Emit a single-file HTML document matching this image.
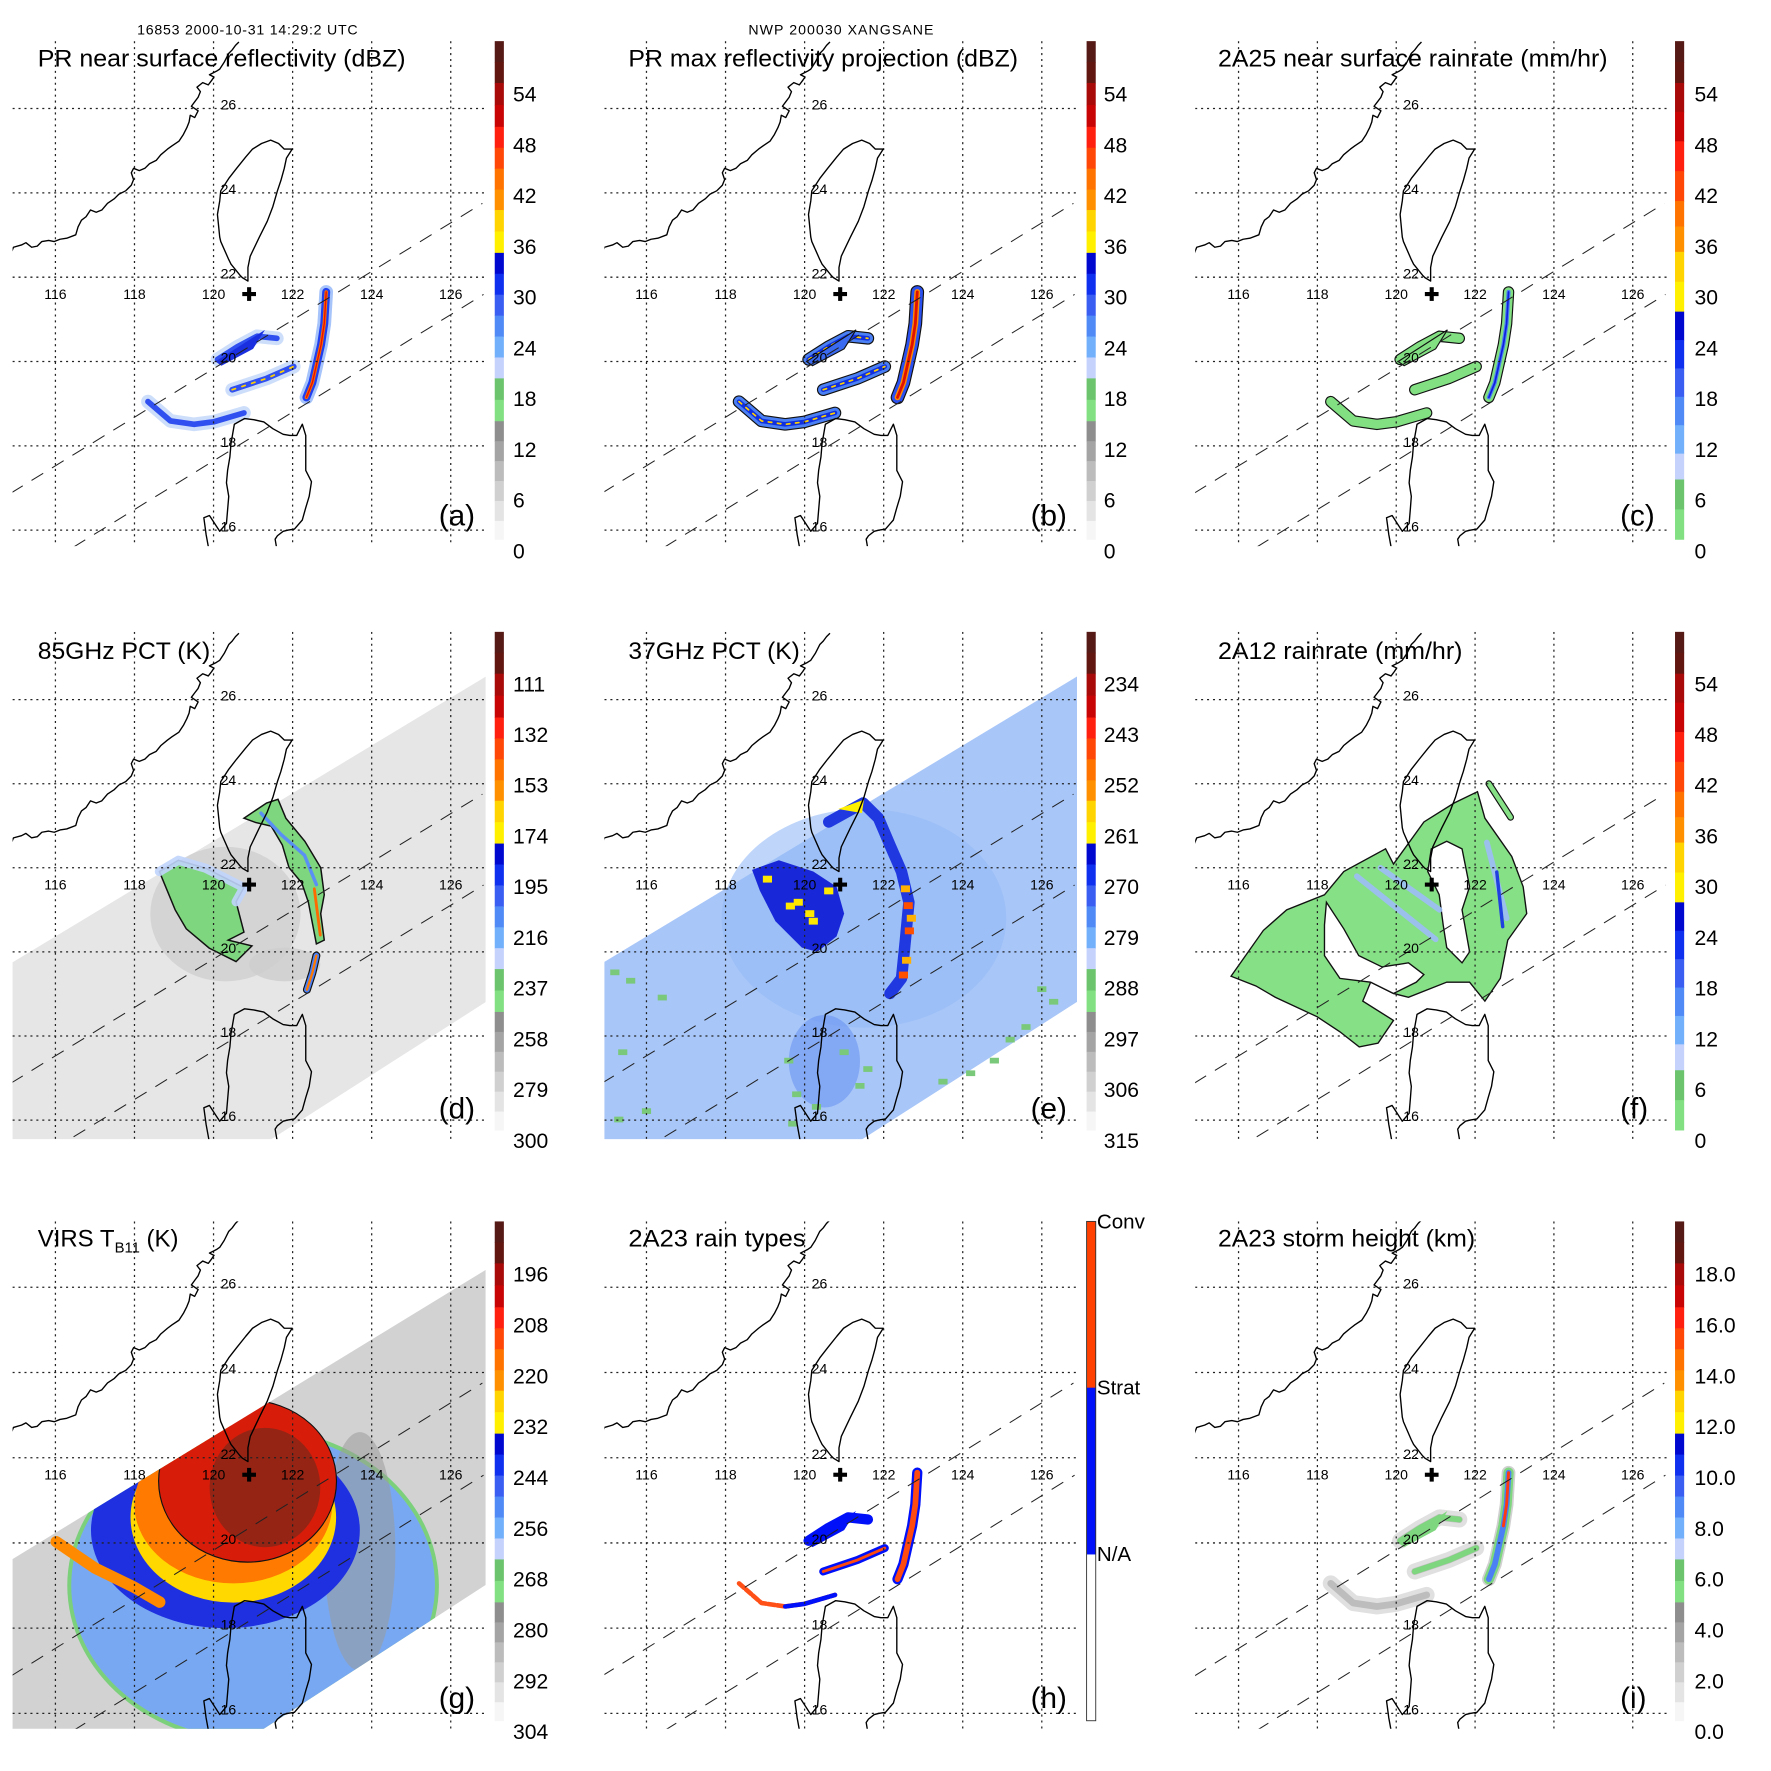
<!DOCTYPE html>
<html><head><meta charset="utf-8">
<style>
html,body{margin:0;padding:0;background:#fff;}
svg{display:block;font-family:"Liberation Sans",Arial,sans-serif;}
</style></head>
<body>
<svg id="fig" xmlns="http://www.w3.org/2000/svg" width="1771" height="1771" viewBox="0 0 1550 1550">
<rect x="0" y="0" width="1550" height="1550" fill="#fff"/>
<text x="120" y="30" font-size="12.4" textLength="193">16853 2000-10-31 14:29:2 UTC</text>
<text x="655" y="30" font-size="12.4" textLength="162">NWP 200030 XANGSANE</text>
</svg>
<script>
// ---------- data arrays ----------
const lonTicks = [116,118,120,122,124,126];
const latTicks = [16,18,20,22,24,26];
const stormCenter = [120.9, 21.6];
const prSwathUpper = [[114.88,16.88],[126.8,23.75]];
const prSwathLower = [[116.46,15.6],[126.83,21.59]];
const tmiSwath = [[114.88,19.73],[126.89,26.55],[126.89,18.81],[121.22,15.4],[114.88,15.4]];
const virsSwath = [[114.88,19.6],[126.89,26.41],[126.89,19.02],[120.87,15.4],[114.88,15.4]];
const ticksA = ["54","48","42","36","30","24","18","12","6","0"];
const ticksB = ["54","48","42","36","30","24","18","12","6","0"];
const ticksC = ["54","48","42","36","30","24","18","12","6","0"];
const ticksD = ["111","132","153","174","195","216","237","258","279","300"];
const ticksE = ["234","243","252","261","270","279","288","297","306","315"];
const ticksF = ["54","48","42","36","30","24","18","12","6","0"];
const ticksG = ["196","208","220","232","244","256","268","280","292","304"];
const ticksH = ["Conv","Strat","N/A"];
const ticksI = ["18.0","16.0","14.0","12.0","10.0","8.0","6.0","4.0","2.0","0.0"];
// PR rain bands (lon/lat)
const bandEyewall = [[122.85,21.65],[122.8,20.9],[122.72,20.4],[122.5,19.5],[122.35,19.15]];
const bandNorth = [[120.1,20.05],[120.6,20.35],[121.1,20.6],[121.6,20.55]];
const bandMid = [[120.47,19.33],[121.34,19.6],[122.03,19.88]];
const bandSouth = [[118.34,19.05],[118.91,18.59],[119.51,18.51],[120.0,18.57],[120.77,18.78]];
const bandWedge = [[120.05,20.0],[121.3,20.75],[121.0,20.3],[120.2,19.9]];
// 85GHz scattering regions
const pct85West = [[118.63,21.91],[119.11,22.18],[119.8,21.99],[120.37,21.72],[120.77,21.53],[120.57,21.19],[120.77,20.47],[120.37,20.28],[120.97,20.14],[120.57,19.77],[119.89,20.09],[119.31,20.55],[119.03,21.0]];
const pct85East = [[120.77,23.18],[121.34,23.54],[121.63,23.63],[121.83,23.18],[122.31,22.63],[122.71,22.0],[122.8,21.36],[122.71,20.91],[122.8,20.28],[122.6,20.19],[122.51,20.64],[122.4,21.18],[122.23,21.64],[121.91,22.0],[121.74,22.54],[121.46,22.99],[121.06,23.08]];
const pct85South = [[122.6,19.91],[122.5,19.5],[122.36,19.1]];
// 37GHz regions
const pct37Core = [[118.67,21.95],[119.35,22.18],[120.22,21.91],[120.81,21.55],[121.0,20.91],[120.81,20.37],[120.32,20.0],[119.93,20.1],[119.26,20.73],[118.87,21.45]];
const pct37Ring = [[120.61,23.09],[121.48,23.54],[121.87,23.18],[122.16,22.54],[122.45,21.91],[122.64,21.18],[122.55,20.28],[122.45,19.37],[122.16,19.01]];
const pct37Cells = [[119.64,21.09],[119.84,21.18],[120.13,20.91],[120.22,20.73],[119.06,21.73],[120.61,21.45],[122.55,21.5],[122.62,21.1],[122.7,20.8],[122.65,20.5],[122.58,19.8],[122.5,19.45]];
const pct37Green = [[115.2,19.5],[115.6,19.3],[116.4,18.9],[115.4,17.6],[116.0,16.2],[115.3,16.0],[119.6,17.4],[119.8,16.6],[121.0,17.6],[121.4,16.8],[124.8,17.4],[125.6,18.2],[126.3,18.8],[123.5,16.9],[124.2,17.1],[119.7,15.9],[120.3,16.3],[121.6,17.2],[126.0,19.1],[125.2,17.9]];
// 2A12 rain area
const rain12Area = [[115.81,19.42],[116.63,20.51],[117.22,21.0],[118.18,21.36],[118.67,21.91],[119.73,22.45],[119.93,22.09],[120.7,23.09],[121.47,23.54],[122.06,23.81],[122.25,23.18],[122.93,22.27],[123.22,21.55],[123.31,20.91],[122.83,20.28],[122.64,19.37],[122.25,18.83],[121.86,19.28],[121.28,19.28],[120.31,18.92],[119.93,19.01],[119.35,19.28],[119.15,18.83],[119.93,18.37],[119.54,17.83],[119.06,17.74],[118.57,18.1],[117.99,18.46],[116.93,18.92],[116.44,19.19]];
const rain12HoleA = [[118.23,21.18],[118.67,20.55],[119.05,19.91],[119.64,19.64],[120.31,19.74],[120.7,19.46],[120.51,19.28],[119.93,19.01],[119.35,19.28],[118.57,19.37],[118.18,19.91],[118.18,20.64]];
const rain12HoleB = [[120.89,22.45],[121.28,22.63],[121.67,22.45],[121.86,21.55],[121.67,21.0],[121.86,20.0],[121.67,19.74],[121.28,20.1],[121.19,20.64],[121.09,21.36],[120.8,21.91]];
const rain12NE = [[122.35,24.0],[122.9,23.2]];
const rain12Streaks = [[[119.0,21.8],[121.0,20.3]],[[119.6,22.0],[121.1,21.0]],[[122.3,22.6],[122.8,20.8]]];
// VIRS layers: lon, lat, rx(deg), ry(deg)
const virsGreen = [121.0,19.0,4.7,3.7];
const virsLight = [121.0,19.0,4.6,3.6];
const virsGrayE = [123.7,19.8,0.9,2.8];
const virsBlue = [120.3,20.3,3.4,2.3];
const virsYellow = [120.5,20.6,2.6,2.0];
const virsOrange = [120.5,20.9,2.5,1.85];
const virsRed = [120.86,21.45,2.25,1.9];
const virsCore = [121.3,21.3,1.4,1.4];
const virsSpiral = [[116.02,20.03],[117.0,19.41],[117.97,18.97],[118.64,18.61]];

// ---------- geography (reference pixel coords of panel a -> lon/lat) ----------
function refLL(arr){return arr.map(p=>[116+(p[0]-50)/34.9, 26-(p[1]-96)/37.4]);}
const taiwan = refLL([[240,124],[247,127],[252,132],[259,132],[254,140],[252,149],[249,160],[246,169],[242,183],[237,196],[230,210],[222,227],[220,237],[220,249],[215,246],[213,244],[205,234],[203,230],[196,214],[195,210],[193,190],[195,178],[196,169],[203,158],[210,149],[218,139],[224,132],[232,127]]);
const china = refLL([[11,224],[13,219],[20,217],[24,215],[29,219],[34,218],[38,214],[44,213],[49,214],[54,212],[60,211],[68,208],[70,201],[73,195],[77,192],[81,186],[86,188],[91,186],[96,180],[102,176],[106,172],[112,169],[117,164],[119,159],[117,153],[119,149],[124,151],[129,149],[133,145],[139,142],[143,137],[149,132],[153,129],[159,125],[163,119],[166,113],[168,108],[169,102],[173,104],[176,98],[170,94],[173,90],[176,86],[178,81],[175,77],[180,73],[185,75],[188,71],[190,68],[186,66],[192,63],[195,61],[199,55],[203,47],[206,44],[209,40],[212,37]]);
const luzon = refLL([[186,490],[183,474],[181,459],[186,457],[195,471],[201,464],[202,452],[203,440],[201,428],[202,417],[204,405],[205,393],[208,376],[217,371],[225,372],[234,374],[242,380],[251,385],[257,386],[263,386],[266,380],[268,376],[271,386],[271,400],[271,417],[276,427],[274,440],[271,450],[268,461],[261,469],[255,470],[251,471],[246,475],[244,478],[246,490]]);

const NS='http://www.w3.org/2000/svg';
const svg=document.getElementById('fig');
function el(tag,attrs,parent){const e=document.createElementNS(NS,tag);for(const k in attrs)e.setAttribute(k,attrs[k]);(parent||svg).appendChild(e);return e;}

const cbLayoutA=[[0,'#561a16'],[0.042,'#621610'],[0.084,'#a80a0a'],[0.128,'#c80404'],[0.172,'#ff2010'],[0.214,'#ff4808'],[0.256,'#ff7400'],[0.298,'#ff9000'],[0.339,'#ffd400'],[0.382,'#fff000'],[0.425,'#0008d0'],[0.467,'#1030f0'],[0.509,'#3a5ef2'],[0.551,'#4f8af6'],[0.593,'#72b0fb'],[0.635,'#c4d2fc'],[0.677,'#6cc46c'],[0.72,'#82e082'],[0.763,'#8e8e8e'],[0.803,'#a4a4a4'],[0.843,'#bcbcbc'],[0.883,'#d0d0d0'],[0.923,'#e4e4e4'],[0.963,'#f6f6f6'],[1,null]];
const cbLayoutB=[[0,'#561a16'],[0.042,'#621610'],[0.084,'#a80a0a'],[0.142,'#c80404'],[0.201,'#ff2010'],[0.261,'#ff4808'],[0.321,'#ff7400'],[0.372,'#ff9000'],[0.423,'#ffd400'],[0.483,'#fff000'],[0.543,'#0008d0'],[0.6,'#1030f0'],[0.657,'#3a5ef2'],[0.714,'#4f8af6'],[0.771,'#72b0fb'],[0.828,'#c4d2fc'],[0.88,'#6cc46c'],[0.94,'#82e082'],[1,null]];
const cbLayoutH=[[0,'#ff4000'],[0.333,'#0010f8'],[0.667,'#ffffff'],[1,null]];

const cols=[{ox:0,x0:48.5,kx:34.6,right:425,cbx:433,lx:449,tx:33},
            {ox:518,x0:47.8,kx:34.6,right:425,cbx:433,lx:448,tx:32},
            {ox:1035,x0:49,kx:34.5,right:424,cbx:431,lx:448,tx:31}];
const rows=[{oy:0,y0:95,ky:36.9,top:36,bot:478,cbT:36,cbB:472,l0:82,ls:44.4,ty:58},
            {oy:520,y0:92.3,ky:36.8,top:33,bot:477,cbT:33,cbB:469,l0:78,ls:44.4,ty:56.7},
            {oy:1035,y0:91.6,ky:37.3,top:34,bot:478,cbT:34,cbB:471,l0:79.7,ls:44.5,ty:56}];

const panels=[
 {id:'a',c:0,r:0,title:'PR near surface reflectivity (dBZ)',tl:322,ticks:ticksA,cb:cbLayoutA,kind:'pr'},
 {id:'b',c:1,r:0,title:'PR max reflectivity projection (dBZ)',tl:341,ticks:ticksB,cb:cbLayoutA,kind:'prmax'},
 {id:'c',c:2,r:0,title:'2A25 near surface rainrate (mm/hr)',tl:341,ticks:ticksC,cb:cbLayoutB,kind:'rr25'},
 {id:'d',c:0,r:1,title:'85GHz PCT (K)',tl:151,ticks:ticksD,cb:cbLayoutA,kind:'p85'},
 {id:'e',c:1,r:1,title:'37GHz PCT (K)',tl:150,ticks:ticksE,cb:cbLayoutA,kind:'p37'},
 {id:'f',c:2,r:1,title:'2A12 rainrate (mm/hr)',tl:214,ticks:ticksF,cb:cbLayoutB,kind:'r12'},
 {id:'g',c:0,r:2,title:'VIRS',tl:0,ticks:ticksG,cb:cbLayoutA,kind:'virs'},
 {id:'h',c:1,r:2,title:'2A23 rain types',tl:155,ticks:ticksH,cb:cbLayoutH,kind:'types'},
 {id:'i',c:2,r:2,title:'2A23 storm height (km)',tl:225,ticks:ticksI,cb:cbLayoutA,kind:'height'}
];

function pathLL(pts,X,Y,close){return pts.map((p,i)=>(i?'L':'M')+X(p[0]).toFixed(1)+','+Y(p[1]).toFixed(1)).join('')+(close?'Z':'');}

panels.forEach(P=>{
  const C=cols[P.c],R=rows[P.r];
  const X=lon=>C.x0+(lon-116)*C.kx;
  const Y=lat=>R.y0+(26-lat)*R.ky;
  const left=11,right=C.right,top=R.top,bot=R.bot;
  const g=el('g',{transform:`translate(${C.ox},${R.oy})`});
  
  
  const defs=el('defs',{},g);
  const cp=el('clipPath',{id:'clip-'+P.id},defs);
  el('rect',{x:left,y:top,width:right-left,height:bot-top},cp);
  const mapG=el('g',{'clip-path':`url(#clip-${P.id})`},g);
  
  
  const dataG=el('g',{},mapG);
  
  

  function line(pts,stroke,w,extra){return el('path',Object.assign({d:pathLL(pts,X,Y,false),fill:'none',stroke:stroke,'stroke-width':w,'stroke-linecap':'round','stroke-linejoin':'round'},extra||{}),dataG);}
  function poly(pts,fill,extra){return el('path',Object.assign({d:pathLL(pts,X,Y,true),fill:fill},extra||{}),dataG);}
  function ell(a,fill,extra){return el('ellipse',Object.assign({cx:X(a[0]),cy:Y(a[1]),rx:a[2]*C.kx,ry:a[3]*R.ky,fill:fill},extra||{}),dataG);}
  const allBands=[bandNorth,bandMid,bandSouth];

  if(P.kind==='pr'){
    allBands.forEach(b=>{line(b,'#b8d0fa',12,{opacity:0.7});line(b,'#3050f0',5);});
    poly(bandWedge,'#1a30e0');
    line(bandEyewall,'#80aaf8',12,{opacity:0.7});line(bandEyewall,'#2040f0',7);line(bandEyewall,'#ff6a00',3);line(bandEyewall,'#e81000',1.2);
    line(bandMid,'#ffd000',1.5,{'stroke-dasharray':'3 6'});
  } else if(P.kind==='prmax'){
    allBands.forEach(b=>{line(b,'#111',11);line(b,'#4a80f4',9);line(b,'#1030e0',4);line(b,'#ffd000',1.5,{'stroke-dasharray':'3 5'});});
    poly(bandWedge,'#3a6af0',{stroke:'#111','stroke-width':1});
    line(bandEyewall,'#111',12);line(bandEyewall,'#2a50f0',10);line(bandEyewall,'#ff8800',5);line(bandEyewall,'#e01000',2.5);
  } else if(P.kind==='rr25'){
    allBands.forEach(b=>{line(b,'#111',10);line(b,'#82e082',8);});
    poly(bandWedge,'#82e082',{stroke:'#111','stroke-width':1});
    line(bandEyewall,'#111',10);line(bandEyewall,'#82e082',8);line(bandEyewall,'#4a80f4',3.5);line(bandEyewall,'#1020e0',1.5);
  } else if(P.kind==='types'){
    line(bandNorth,'#0010f8',9);poly(bandWedge,'#0010f8');
    line(bandMid,'#0010f8',7);line(bandMid,'#ff4a10',2.5);
    line(bandSouth,'#ff5018',4,{'stroke-dasharray':'6 2'});line(bandSouth.slice(2),'#0010f8',4);
    line(bandEyewall,'#0010f8',9);line(bandEyewall,'#ff4a10',5);
  } else if(P.kind==='height'){
    allBands.forEach(b=>{line(b,'#dadada',14,{opacity:0.85});line(b,'#bdbdbd',6);});
    line(bandNorth,'#7ed67e',5);line(bandMid,'#7ed67e',5);
    poly(bandWedge,'#7ed67e');
    line(bandEyewall,'#d0d0d0',12);line(bandEyewall,'#7ed67e',9);line(bandEyewall,'#4a80f4',5);line(bandEyewall.slice(0,3),'#ff3a10',2.5);
  } else if(P.kind==='p85'){
    poly(tmiSwath,'#e6e6e6');
    ell([120.3,20.9,1.9,1.6],'#d0d0d0',{opacity:0.8});
    ell([121.8,19.7,0.9,0.4],'#cdcdcd',{opacity:0.8});
    poly(pct85West,'#7ed67e',{stroke:'#111','stroke-width':1.3});
    line(pct85West.slice(0,6),'#c0d4fb',8,{opacity:0.9});
    poly(pct85East,'#7ed67e',{stroke:'#111','stroke-width':1.3});
    line([[121.2,23.3],[121.7,22.8],[122.3,22.3],[122.6,21.6]],'#5a90f4',3);
    line([[122.55,21.5],[122.7,20.4]],'#ff6a00',2.5);
    line(pct85South,'#111',7);line(pct85South,'#4a80f4',5);line(pct85South,'#ff7a00',2);
  } else if(P.kind==='p37'){
    poly(tmiSwath,'#a8c6f8');
    ell([121.5,20.8,3.6,2.6],'#94baf6',{opacity:0.6});
    ell([120.5,17.4,0.9,1.1],'#6a94f2',{opacity:0.6});
    pct37Green.forEach(p=>{el('rect',{x:X(p[0])-4,y:Y(p[1])-3,width:8,height:5,fill:'#7ac87a'},dataG);});
    poly(pct37Core,'#1828d8');
    line(pct37Ring,'#2038e0',10);
    el('path',{d:pathLL([[120.85,23.4],[121.5,23.62],[121.45,23.3]],X,Y,true),fill:'#fff000'},dataG);
    pct37Cells.forEach((p,i)=>{el('rect',{x:X(p[0])-4,y:Y(p[1])-3,width:8,height:6,fill:i>=6?(i%2?'#ff5000':'#ffb000'):'#ffe800'},dataG);});
  } else if(P.kind==='r12'){
    poly(rain12Area,'#86e086',{stroke:'#111','stroke-width':1.2});
    poly(rain12HoleA,'#ffffff',{stroke:'#111','stroke-width':1.2});
    poly(rain12HoleB,'#ffffff',{stroke:'#111','stroke-width':1.2});
    rain12Streaks.forEach(s=>line(s,'#9cbcf6',5,{opacity:0.9}));
    line([[122.55,21.9],[122.7,20.6]],'#2040e0',3);
    line(rain12NE,'#111',6);line(rain12NE,'#86e086',4);
  } else if(P.kind==='virs'){
    poly(virsSwath,'#d2d2d2');
    const vc=el('clipPath',{id:'vclip'},defs);
    el('path',{d:pathLL(virsSwath,X,Y,true)},vc);
    const vg=el('g',{'clip-path':'url(#vclip)'},dataG);
    const ve=(a,f,x)=>el('ellipse',Object.assign({cx:X(a[0]),cy:Y(a[1]),rx:a[2]*C.kx,ry:a[3]*R.ky,fill:f},x||{}),vg);
    ve(virsGreen,'#7cd07c');
    ve(virsLight,'#78a8f2');
    ve(virsGrayE,'#9a9a9a',{opacity:0.55});
    ve(virsBlue,'#1e30e0');
    el('path',{d:pathLL(virsSpiral,X,Y,false),fill:'none',stroke:'#ff8a00','stroke-width':10,'stroke-linecap':'round'},vg);
    ve(virsYellow,'#ffd800');
    ve(virsOrange,'#ff7a00');
    ve(virsRed,'#d81c0a',{stroke:'#111','stroke-width':1});
    ve(virsCore,'#8a2618',{opacity:0.85});
  }

  const grid=el('g',{stroke:'#222','stroke-width':1.1,'stroke-dasharray':'1.8 3.4'},mapG);
  
  
  lonTicks.forEach(l=>el('line',{x1:X(l),x2:X(l),y1:top,y2:bot},grid));
  latTicks.forEach(l=>el('line',{x1:left,x2:right,y1:Y(l),y2:Y(l)},grid));
  const coast=el('g',{fill:'none',stroke:'#000','stroke-width':1.2,'stroke-linejoin':'round'},mapG);
  
  
  el('path',{d:pathLL(taiwan,X,Y,true)},coast);
  el('path',{d:pathLL(china,X,Y,false)},coast);
  el('path',{d:pathLL(luzon,X,Y,false)},coast);
  const sw=el('g',{fill:'none',stroke:'#222','stroke-width':0.9,'stroke-dasharray':'12 9'},mapG);
  
  
  el('path',{d:pathLL(prSwathUpper,X,Y,false)},sw);
  el('path',{d:pathLL(prSwathLower,X,Y,false)},sw);
  const lab=el('g',{'font-size':12.3,fill:'#000'},g);
  
  
  lonTicks.forEach(l=>{const t=el('text',{x:X(l),y:Y(22)+19,'text-anchor':'middle'},lab);t.textContent=String(l);});
  latTicks.forEach(l=>{const t=el('text',{x:X(120)+13,y:Y(l)+1,'text-anchor':'middle'},lab);t.textContent=String(l);});
  const sc=el('g',{fill:'#000'},g);
  
  
  el('rect',{x:X(stormCenter[0])-6,y:Y(stormCenter[1])-1.8,width:12,height:3.6},sc);
  el('rect',{x:X(stormCenter[0])-1.8,y:Y(stormCenter[1])-6,width:3.6,height:12},sc);
  if(P.kind==='virs'){
    const t=el('text',{x:C.tx,y:R.ty,'font-size':21},g);
    
    
    t.innerHTML='VIRS T<tspan font-size="13" dy="5">B11</tspan><tspan dy="-5"> (K)</tspan>';
  } else {
    const t=el('text',{x:C.tx,y:R.ty,'font-size':21,textLength:P.tl,lengthAdjust:'spacingAndGlyphs'},g);
    
    
    t.textContent=P.title;
  }
  const pl=el('text',{x:right-41,y:bot-18,'font-size':26},g);
  
  
  pl.textContent='('+P.id+')';
  const cbg=el('g',{},g);
  
  
  const H=R.cbB-R.cbT;
  for(let i=0;i<P.cb.length-1;i++){
    el('rect',{x:C.cbx,y:R.cbT+P.cb[i][0]*H,width:8,height:(P.cb[i+1][0]-P.cb[i][0])*H+0.4,fill:P.cb[i][1]},cbg);
  }
  if(P.kind==='types'){
    el('rect',{x:C.cbx,y:R.cbT,width:8,height:H,fill:'none',stroke:'#333','stroke-width':0.8},cbg);
    P.ticks.forEach((s,i)=>{const t=el('text',{x:C.lx-6,y:R.cbT+i*H/3+6,'font-size':18},cbg);t.textContent=s;});
  } else {
    P.ticks.forEach((s,i)=>{const t=el('text',{x:C.lx,y:R.l0+i*R.ls+7,'font-size':18.5},cbg);t.textContent=s;});
  }
});
</script>
</body></html>
